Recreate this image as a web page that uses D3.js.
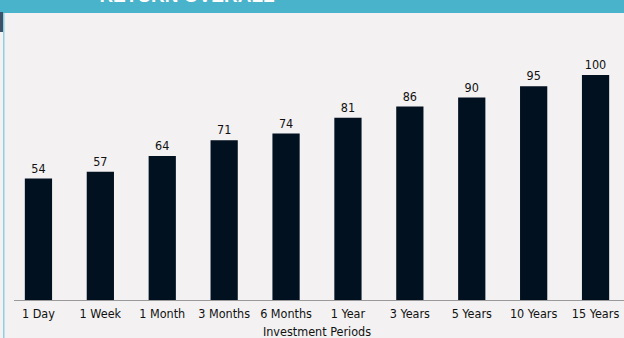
<!DOCTYPE html>
<html>
<head>
<meta charset="utf-8">
<script src="https://cdn.jsdelivr.net/npm/d3@7"></script>
<style>
  html, body { margin: 0; padding: 0; background: #f3f1f2; }
  svg { display: block; }
  text { font-family: "DejaVu Sans Condensed", "DejaVu Sans", sans-serif; font-stretch: condensed; }
</style>
</head>
<body>
<svg id="chart" width="624" height="338"></svg>
<script>
const periods = ["1 Day", "1 Week", "1 Month", "3 Months", "6 Months", "1 Year", "3 Years", "5 Years", "10 Years", "15 Years"];
const returnPct = [54, 57, 64, 71, 74, 81, 86, 90, 95, 100];
const headerTitle = "RETURN OVERALL";
const axisTitle = "Investment Periods";

const W = 624, H = 338;
const svg = d3.select("#chart");

svg.append("rect").attr("width", W).attr("height", H).attr("fill", "#f3f1f2");

// header band with its title running off the top
svg.append("rect").attr("x", 0).attr("y", 0).attr("width", W).attr("height", 13).attr("fill", "#4ab3cc");
svg.append("text")
  .attr("x", 187).attr("y", 1.5)
  .attr("text-anchor", "middle")
  .attr("fill", "#ffffff")
  .style("font-family", "'Liberation Sans', sans-serif")
  .style("font-weight", "bold")
  .style("font-size", "19px")
  .text(headerTitle);

// left edge trim
svg.append("rect").attr("x", 0).attr("y", 12).attr("width", 3).attr("height", 20).attr("fill", "#3d5268");
svg.append("rect").attr("x", 3).attr("y", 13).attr("width", 1.5).attr("height", H - 13).attr("fill", "#8fd0e0");

const x = d3.scaleBand()
  .domain(periods)
  .range([7.5, 626.5])
  .paddingInner(0.56)
  .paddingOuter(0.28);

const y = d3.scaleLinear().domain([0, 100]).range([300, 75]);

const data = periods.map((p, i) => ({ period: p, value: returnPct[i] }));

svg.append("g").selectAll("rect")
  .data(data)
  .join("rect")
  .attr("x", d => x(d.period))
  .attr("y", d => y(d.value))
  .attr("width", x.bandwidth())
  .attr("height", d => y(0) - y(d.value))
  .attr("fill", "#021120");

svg.append("g").selectAll("text")
  .data(data)
  .join("text")
  .attr("x", d => x(d.period) + x.bandwidth() / 2)
  .attr("y", d => y(d.value) - 6)
  .attr("text-anchor", "middle")
  .attr("fill", "#111")
  .style("font-size", "12.5px")
  .text(d => d.value);

// category axis
const axis = svg.append("g")
  .attr("transform", `translate(0,${y(0)})`)
  .call(d3.axisBottom(x).tickSize(0).tickPadding(9));
axis.select(".domain").attr("stroke", "#9a9a9a").attr("d", `M14,0.5H${W}`);
axis.selectAll("text")
  .attr("fill", "#111")
  .style("font-size", "12.5px")
  .style("font-family", "'DejaVu Sans Condensed', 'DejaVu Sans', sans-serif");

svg.append("text")
  .attr("x", (7.5 + 626.5) / 2)
  .attr("y", 336)
  .attr("text-anchor", "middle")
  .attr("fill", "#111")
  .style("font-size", "12.5px")
  .text(axisTitle);
</script>
</body>
</html>
